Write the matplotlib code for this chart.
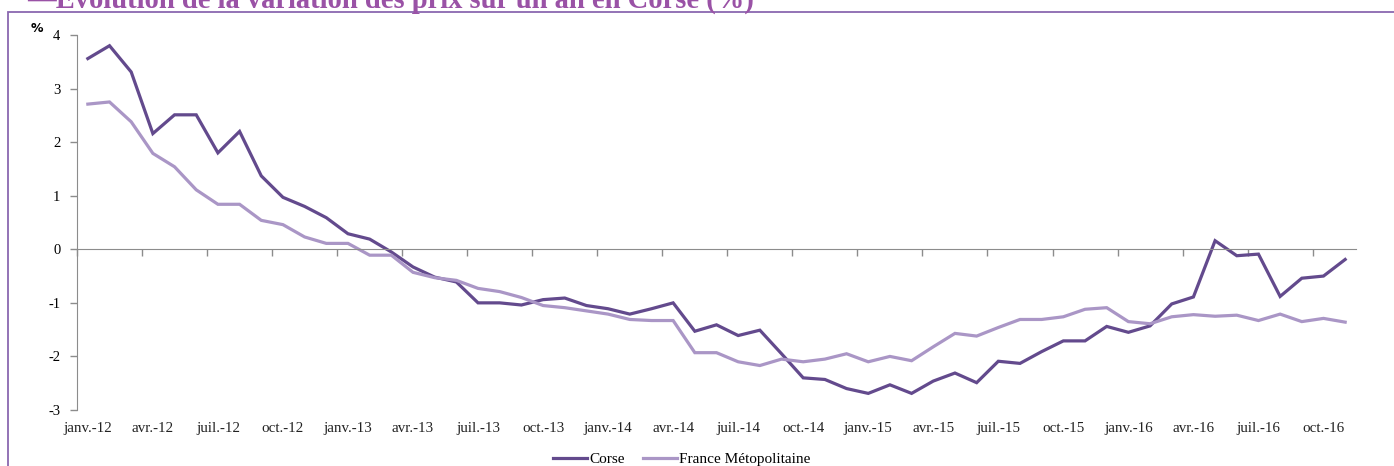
import numpy as np
import matplotlib
matplotlib.use("Agg")
import matplotlib.pyplot as plt
from matplotlib.patches import Rectangle
from matplotlib.lines import Line2D
import matplotlib.transforms as mtransforms

# monthly, janv. 2012 -> nov. 2016
months = ['janv.', 'févr.', 'mars', 'avr.', 'mai', 'juin',
          'juil.', 'août', 'sept.', 'oct.', 'nov.', 'déc.']
years = ['12', '13', '14', '15', '16']
labels = [m + '-' + y for y in years for m in months][:59]

corse = [3.56, 3.80, 3.31, 2.16, 2.51, 2.51, 1.80, 2.20, 1.37, 0.97, 0.80, 0.59,
         0.29, 0.19, -0.05, -0.33, -0.52, -0.61, -1.00, -1.00, -1.04, -0.94, -0.91, -1.05,
         -1.11, -1.21, -1.11, -1.00, -1.53, -1.41, -1.61, -1.51, -1.95, -2.40, -2.43, -2.60,
         -2.69, -2.53, -2.69, -2.46, -2.31, -2.49, -2.09, -2.13, -1.91, -1.71, -1.71, -1.44,
         -1.55, -1.43, -1.02, -0.89, 0.16, -0.12, -0.09, -0.88, -0.54, -0.50, -0.19]
france = [2.71, 2.75, 2.38, 1.79, 1.54, 1.11, 0.84, 0.84, 0.54, 0.46, 0.23, 0.11,
          0.11, -0.11, -0.11, -0.43, -0.53, -0.58, -0.73, -0.79, -0.90, -1.05, -1.09, -1.15,
          -1.21, -1.31, -1.33, -1.33, -1.93, -1.93, -2.10, -2.17, -2.05, -2.10, -2.05, -1.95,
          -2.10, -2.00, -2.08, -1.82, -1.57, -1.62, -1.46, -1.31, -1.31, -1.26, -1.12, -1.09,
          -1.35, -1.39, -1.26, -1.22, -1.25, -1.23, -1.33, -1.21, -1.35, -1.29, -1.36]

c_corse = '#634a8d'
c_france = '#aa96c6'
c_border = '#8a68b0'
c_title = '#9a52a6'
c_axis = '#8c8c8c'
serif = ['Liberation Serif', 'DejaVu Serif']

W, H = 1394, 466
fig = plt.figure(figsize=(W / 100, H / 100), dpi=100)
ax = fig.add_axes([77 / W, (H - 410) / H, (1356 - 77) / W, (410 - 35) / H])

x = np.arange(len(corse))
ax.plot(x, corse, color=c_corse, lw=2.3, solid_joinstyle='miter', label='Corse')
ax.plot(x, france, color=c_france, lw=2.3, solid_joinstyle='miter', label='France Métopolitaine')

ax.set_xlim(-0.5, len(corse) - 0.5)
ax.set_ylim(-3, 4)
ax.set_yticks(range(-3, 5))
ax.set_yticklabels([str(v) for v in range(-3, 5)], fontfamily=serif, fontsize=10.5)
ax.tick_params(axis='y', length=5, width=1, color=c_axis, pad=7)

for s in ['top', 'right']:
    ax.spines[s].set_visible(False)
ax.spines['left'].set_color(c_axis)
ax.spines['bottom'].set_color(c_axis)
ax.spines['bottom'].set_position(('data', 0))

ax.set_xticks(np.arange(-0.5, len(corse) - 0.5, 3))
ax.set_xticklabels([])
ax.tick_params(axis='x', length=5, width=1, color=c_axis, direction='out')

trans = mtransforms.blended_transform_factory(ax.transData, ax.transAxes)
for i in range(0, len(labels), 3):
    ax.text(i, -0.05, labels[i], transform=trans, ha='center', va='center',
            fontfamily=serif, fontsize=10.8, color='#222222')

fig.text(37 / W, 1 - 29 / H, '%', ha='center', va='center',
         fontfamily=['DejaVu Sans'], fontsize=9, fontweight='bold')

handles = [Line2D([], [], color=c_corse, lw=2.3), Line2D([], [], color=c_france, lw=2.3)]
fig.legend(handles, ['Corse', 'France Métopolitaine'], loc='center',
           bbox_to_anchor=(682 / W, 1 - 459 / H), ncol=2, frameon=False,
           prop={'family': serif, 'size': 11}, handlelength=2.2, handletextpad=0.15,
           columnspacing=1.2)

# frame around the chart
fig.patches.append(Rectangle((8 / W, -0.1), 1.1, 1 - 12 / H + 0.1, transform=fig.transFigure,
                             fill=False, edgecolor=c_border, lw=1.3, clip_on=False))

# title, cut at the top of the picture as in the source
t = fig.text(27 / W, 1 - 8 / H, '—Évolution de la variation des prix sur un an en Corse (%)',
             ha='left', va='baseline', fontfamily=serif, fontweight='bold',
             fontsize=18, color=c_title)
fig.canvas.draw()
bb = t.get_window_extent()
t.set_fontsize(18 * 728 / bb.width)

fig.savefig('out.png', dpi=100)
